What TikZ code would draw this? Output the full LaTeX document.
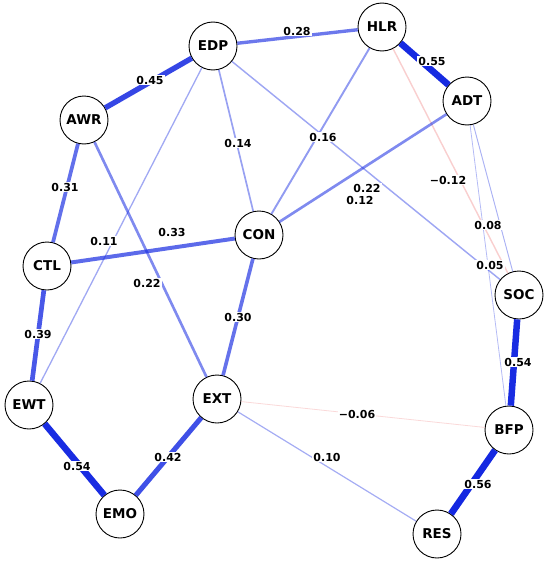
\documentclass[tikz,border=0pt]{standalone}
\usepackage{fontspec}
\setmainfont{DejaVu Sans}
\usetikzlibrary{positioning}
\definecolor{myblue}{RGB}{20,40,225}
\definecolor{myred}{RGB}{235,90,90}

\begin{document}
\begin{tikzpicture}[x=1pt,y=-1pt,
  varnode/.style={draw,circle,fill=white,minimum size=48pt,inner sep=0pt,
    line width=0.9pt,font=\fontsize{13.5}{13.5}\selectfont\bfseries},
  wlabel/.style={fill=white,inner sep=1pt,font=\fontsize{11}{11}\selectfont\bfseries}
]
\useasboundingbox (0,0) rectangle (550,562);

% the variables
\foreach \n/\x/\y in {EDP/213/46, HLR/382/27, ADT/467/101, AWR/84/120,
    CON/259/235, CTL/47/266, SOC/519/295, EWT/29/405, EXT/217/399,
    BFP/509/430, EMO/120/514, RES/437/534}
  \node[varnode] (\n) at (\x,\y) {\n};

% the edges
\foreach \a/\b/\w/\c/\f in {EDP/HLR/0.28/myblue/1, AWR/EDP/0.45/myblue/1,
    HLR/ADT/0.55/myblue/1, EDP/CON/0.14/myblue/1, EDP/SOC/0.12/myblue/1,
    EDP/EWT/0.11/myblue/1, HLR/CON/0.16/myblue/1, HLR/SOC/0.12/myred/0.7,
    ADT/CON/0.22/myblue/1, ADT/SOC/0.08/myblue/1, ADT/BFP/0.05/myblue/1,
    AWR/CTL/0.31/myblue/1, AWR/EXT/0.22/myblue/1, CTL/CON/0.33/myblue/1,
    CON/EXT/0.30/myblue/1, CTL/EWT/0.39/myblue/1, EWT/EMO/0.54/myblue/1,
    EMO/EXT/0.42/myblue/1, EXT/BFP/0.06/myred/0.7, EXT/RES/0.10/myblue/1,
    SOC/BFP/0.54/myblue/1, BFP/RES/0.56/myblue/1}
{
  \pgfmathsetmacro\lw{max(0.8,12*\w)}
  \pgfmathsetmacro\op{\f*min(1,0.25+1.35*\w)}
  \draw[\c,line width=\lw pt,draw opacity=\op] (\a) -- (\b);
}

% the weights
\foreach \n/\x/\y/\t in {a/297/31/0.28, b/150/80/0.45, c/432/61/0.55,
    d/238/143/0.14, e/323/137/0.16, f/367/188/0.22, g/360/200/0.12,
    h/448/180/−0.12, i/488/225/0.08, j/490/265/0.05, k/65/187/0.31,
    l/104/241/0.11, m/172/232/0.33, n/147/283/0.22, o/38/334/0.39,
    p/238/317/0.30, q/77/466/0.54, r/168/457/0.42, s/357/414/−0.06,
    t/327/457/0.10, u/478/484/0.56, v/518/362/0.54}
  \node[wlabel] (w\n) at (\x,\y) {\t};
\end{tikzpicture}
\end{document}
